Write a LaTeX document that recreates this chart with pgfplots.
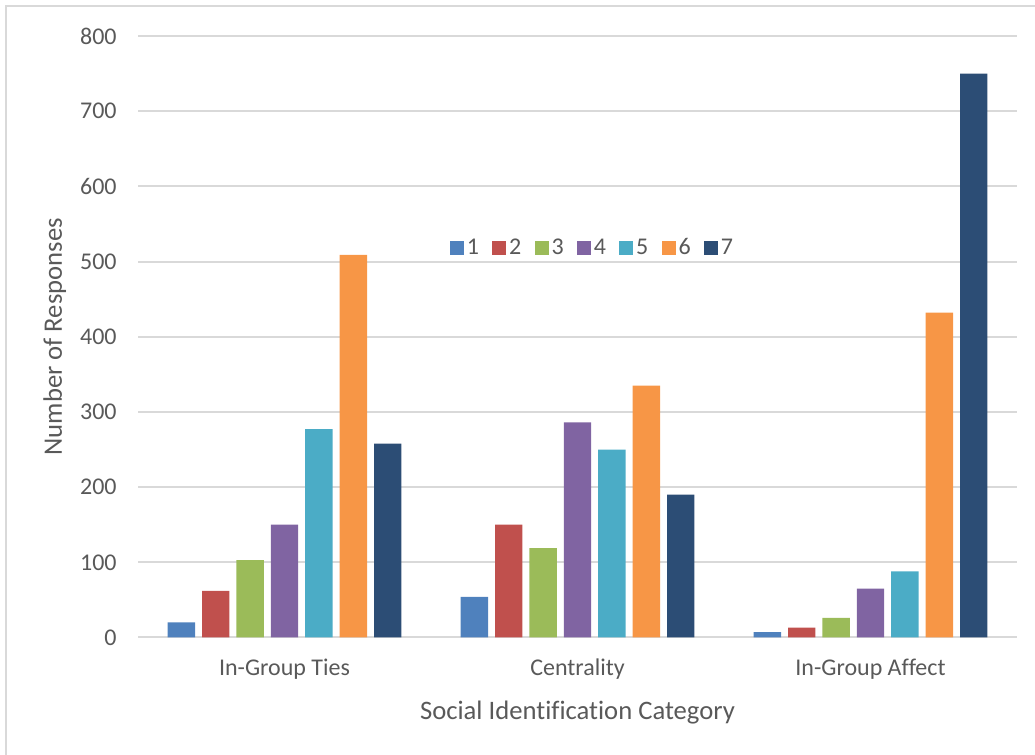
\documentclass[border=0pt]{standalone}
\usepackage{pgfplots}
\usepackage{pgfplotstable}
\pgfplotsset{compat=1.18}
\usepackage{fontspec}
\setmainfont{Carlito}[Ligatures=CommonOff]

\definecolor{txt}{HTML}{595959}
\definecolor{gridc}{HTML}{D9D9D9}
\definecolor{c1}{HTML}{4F81BD}
\definecolor{c2}{HTML}{C0504D}
\definecolor{c3}{HTML}{9BBB59}
\definecolor{c4}{HTML}{8064A2}
\definecolor{c5}{HTML}{4BACC6}
\definecolor{c6}{HTML}{F79646}
\definecolor{c7}{HTML}{2C4D75}

% responses per rating (1..7) for each social identification category
\pgfplotstableread{
cat s1 s2 s3 s4 s5 s6 s7
0   20 62 103 150 277 509 258
1   54 150 119 286 250 335 190
2   7  13 26  65  88  432 750
}\responses

\begin{document}
\begin{tikzpicture}
\useasboundingbox (0,0) rectangle (517.5pt,377.5pt);
\draw[gridc, line width=1pt] (3pt,0) -- (3pt,374.5pt) -- (517.5pt,374.5pt);
\begin{axis}[
  at={(69pt,58.75pt)}, anchor=south west,
  scale only axis, width=439.5pt, height=300.75pt,
  ybar, bar width=13.7pt,
  xmin=-0.5, xmax=2.5, ymin=0, ymax=800,
  xtick=data, xticklabels={In-Group Ties,Centrality,In-Group Affect},
  ytick={0,100,...,800},
  axis line style={draw=none},
  major tick length=0pt,
  ymajorgrids, grid style={gridc, line width=1pt},
  /pgf/number format/assume math mode=true,
  tick label style={font=\fontsize{12}{14}\selectfont, text=txt},
  yticklabel style={inner sep=0pt, anchor=east, xshift=-10.5pt},
  xticklabel style={inner sep=0pt, anchor=base, yshift=-19.25pt},
  xlabel={Social Identification Category},
  ylabel={Number of Responses},
  label style={font=\fontsize{13.33}{16}\selectfont, text=txt, inner sep=0pt},
  xlabel style={at={(axis description cs:0.5,0)}, anchor=base, yshift=-41.25pt},
  ylabel style={at={(axis description cs:0,0.5)}, anchor=base, yshift=38pt},
  legend columns=7,
  legend style={draw=none, fill=none, at={(0.5176,0.6476)}, anchor=center,
    font=\fontsize{12}{14}\selectfont, text=txt,
    /tikz/every even column/.append style={column sep=5.1pt},
    nodes={inner sep=1.5pt}},
  legend image code/.code={\fill[#1] (0pt,-3.5pt) rectangle (7pt,3.5pt);},
]
\addplot[fill=c1, draw=none, bar shift=-51.6pt] table[x=cat, y=s1] {\responses};
\addplot[fill=c2, draw=none, bar shift=-34.4pt] table[x=cat, y=s2] {\responses};
\addplot[fill=c3, draw=none, bar shift=-17.2pt] table[x=cat, y=s3] {\responses};
\addplot[fill=c4, draw=none, bar shift=0pt] table[x=cat, y=s4] {\responses};
\addplot[fill=c5, draw=none, bar shift=17.2pt] table[x=cat, y=s5] {\responses};
\addplot[fill=c6, draw=none, bar shift=34.4pt] table[x=cat, y=s6] {\responses};
\addplot[fill=c7, draw=none, bar shift=51.6pt] table[x=cat, y=s7] {\responses};
\legend{1,2,3,4,5,6,7}
\end{axis}
\end{tikzpicture}
\end{document}
